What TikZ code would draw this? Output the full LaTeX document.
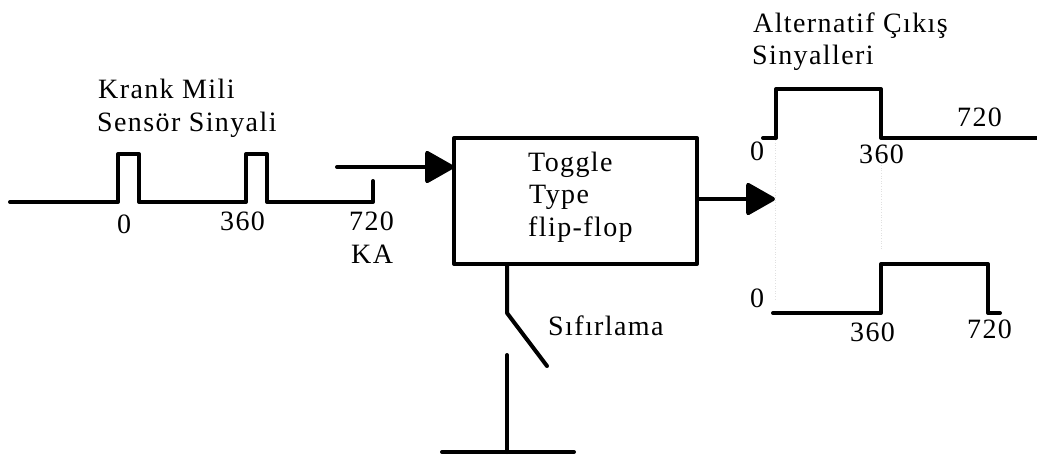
\documentclass[tikz,border=0pt]{standalone}
\usepackage{fontspec}
\setmainfont[LetterSpace=5]{Liberation Serif}
\usetikzlibrary{arrows.meta}
\tikzset{
  wire/.style={line width=4pt,line join=round,line cap=round,black},
  arrowline/.style={wire,-{Triangle[length=31pt,width=34pt,round]}},
  guide/.style={line width=0.6pt,black!12,dotted},
  lbl/.style={anchor=base west,inner sep=0pt,font=\fontsize{28}{28}\selectfont},
}
\begin{document}
\begin{tikzpicture}[x=1pt,y=-1pt]
\useasboundingbox (0,0) rectangle (1037,456);
% block
\node[draw,line width=4pt,line join=round,outer sep=0pt,minimum width=243pt,minimum height=126pt,inner sep=0pt,anchor=north west] (box) at (454,138) {};
% named points
\coordinate (sA) at (10,202);
\coordinate (sB) at (373,181);
\coordinate (inA) at (337,167);
\coordinate (outTip) at (775,199);
\coordinate (uA) at (763,138);
\coordinate (uB) at (1037,138);
\coordinate (lA) at (773,313);
\coordinate (lB) at (1000,313);
\coordinate (swBase) at (507,264);
\coordinate (swTop) at (507,313);
\coordinate (swEnd) at (547,366);
\coordinate (swLow) at (507,355);
\coordinate (gndL) at (442,452);
\coordinate (gndR) at (574,452);
\coordinate (gndM) at (507,452);
% guides
\draw[guide] (775,140) -- (775,300);
\draw[guide] (881,160) -- (881,250);
% input signal
\draw[wire] (sA) -- (118,202) -- (118,154) -- (139,154) -- (139,202) -- (246,202) -- (246,154) -- (267,154) -- (267,202) -- (373,202) -- (sB);
% arrows
\draw[arrowline] (inA) -- (inA -| box.west);
\draw[arrowline] (outTip -| box.east) -- (outTip);
% output signals
\draw[wire] (uA) -- (776,138) -- (776,89) -- (881,89) -- (881,138) -- (uB);
\draw[wire] (lA) -- (881,313) -- (881,264) -- (988,264) -- (988,313) -- (lB);
% switch and ground
\draw[wire] (swBase) -- (swTop) -- (swEnd);
\draw[wire] (swLow) -- (gndM);
\draw[wire] (gndL) -- (gndR);
% labels
\node[lbl] (t1) at (98,98) {Krank Mili};
\node[lbl] (t2) at (97,131) {Sensör Sinyali};
\node[lbl] (t3) at (117,233) {0};
\node[lbl] (t4) at (220,230) {360};
\node[lbl] (t5) at (349,230) {720};
\node[lbl] (t6) at (351,263) {KA};
\node[lbl] (t7) at (528,171) {Toggle};
\node[lbl] (t8) at (529,203) {Type};
\node[lbl] (t9) at (528,236) {flip-flop};
\node[lbl] (t10) at (548,335) {Sıfırlama};
\node[lbl] (t11) at (753,32) {Alternatif Çıkış};
\node[lbl] (t12) at (752,64) {Sinyalleri};
\node[lbl] (t13) at (750,160) {0};
\node[lbl] (t14) at (859,163) {360};
\node[lbl] (t15) at (957,126) {720};
\node[lbl] (t16) at (750,307) {0};
\node[lbl] (t17) at (850,341) {360};
\node[lbl] (t18) at (967,338) {720};
\end{tikzpicture}
\end{document}
